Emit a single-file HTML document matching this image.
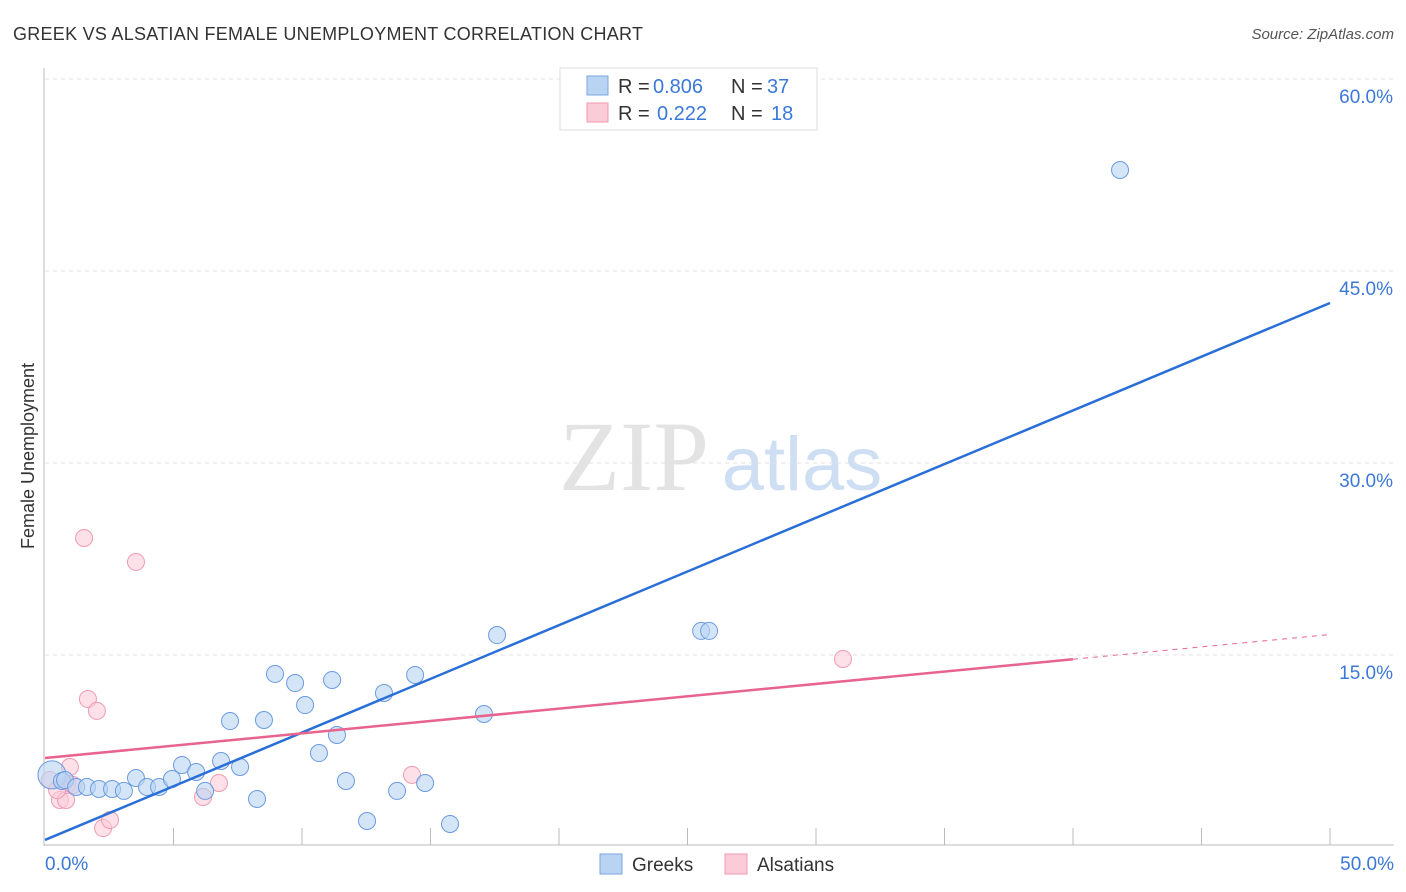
<!DOCTYPE html>
<html><head><meta charset="utf-8"><style>
body{margin:0;background:#fff;font-family:"Liberation Sans",sans-serif}
svg{display:block}
</style></head><body>
<svg id="chart" width="1406" height="892" viewBox="0 0 1406 892">
<text x="13" y="40" font-size="18" fill="#333" textLength="630">GREEK VS ALSATIAN FEMALE UNEMPLOYMENT CORRELATION CHART</text>
<text x="1394" y="39" font-size="15" fill="#555" font-style="italic" text-anchor="end">Source: ZipAtlas.com</text>
<text transform="translate(34,456) rotate(-90)" font-size="18" fill="#333" text-anchor="middle">Female Unemployment</text>
<g><text x="634" y="490" font-size="100" font-family="Liberation Serif,serif" fill="#e3e3e3" text-anchor="middle">ZIP</text><text x="802" y="490" font-size="76" fill="#cfdff3" text-anchor="middle">atlas</text></g>
<g id="grid"></g><g id="axes"></g><g id="lines"></g><g id="pts"></g>
<g font-size="20">
<rect x="560" y="68" width="257" height="62" fill="#fff" stroke="#ddd"/>
<rect x="587" y="76" width="21" height="19" fill="#b9d3f3" stroke="#7aa7e0"/>
<rect x="587" y="103" width="21" height="19" fill="#fbcbd8" stroke="#ef9ab2"/>
<text x="618" y="93" fill="#333">R =</text><text x="653" y="93" fill="#3b78d8">0.806</text>
<text x="731" y="93" fill="#333">N =</text><text x="767" y="93" fill="#3b78d8">37</text>
<text x="618" y="120" fill="#333">R =</text><text x="657" y="120" fill="#3b78d8">0.222</text>
<text x="731" y="120" fill="#333">N =</text><text x="771" y="120" fill="#3b78d8">18</text>
</g>
<g>
<rect x="600" y="854" width="22" height="20" fill="#b9d3f3" stroke="#7aa7e0"/>
<text x="632" y="871" font-size="19" fill="#333">Greeks</text>
<rect x="725" y="854" width="22" height="20" fill="#fbcbd8" stroke="#ef9ab2"/>
<text x="757" y="871" font-size="19" fill="#333">Alsatians</text>
</g>
</svg>
<script>
const greekX=[0.27,0.66,0.78,1.21,1.63,2.10,2.61,3.07,3.54,3.97,4.44,4.94,5.33,5.88,6.23,6.85,7.20,7.59,8.25,8.52,8.95,9.73,10.12,10.66,11.17,11.36,11.71,12.53,13.19,13.70,14.40,14.79,15.76,17.08,17.59,25.53,25.84,41.83];
const greekY=[5.63,5.16,5.23,4.69,4.69,4.53,4.53,4.38,5.39,4.69,4.69,5.31,6.41,5.86,4.38,6.72,9.84,6.25,3.75,9.92,13.52,12.81,11.09,7.34,13.05,8.75,5.16,2.03,12.03,4.38,13.44,5.0,1.80,10.39,16.56,16.88,16.88,52.89];
const alsX=[0.19,0.58,0.82,0.97,0.86,1.52,1.67,2.02,2.26,2.53,3.54,6.15,6.77,14.28,31.05,0.47,1.09];
const alsY=[5.23,3.67,3.67,6.25,4.84,24.14,11.56,10.63,1.48,2.11,22.27,3.91,5.0,5.63,14.69,4.45,4.84];
const yTicks=[15,30,45,60];
const yTickLabels=["15.0%","30.0%","45.0%","60.0%"];
const xTickLabels=["0.0%","50.0%"];
const greekFit=[0.55,42.5];
const alsFit=[6.95,16.6];
const alsSolidEnd=40;
const NS="http://www.w3.org/2000/svg";
const sx=v=>45+v*25.7, sy=v=>847-v*12.8;
function mk(t,a,p){const e=document.createElementNS(NS,t);for(const k in a)e.setAttribute(k,a[k]);document.getElementById(p).appendChild(e);return e;}
yTicks.forEach((t,i)=>{
 const g=mk('line',{x1:45,x2:1394,y1:sy(t),y2:sy(t),stroke:'#e2e2e2','stroke-dasharray':'4,4'},'grid');
 
 
 const l=mk('text',{x:1393,y:sy(t)+24,'font-size':19,fill:'#3b78d8','text-anchor':'end'},'grid');l.textContent=yTickLabels[i];
 
 
});
const ax=mk('line',{x1:44,x2:44,y1:68,y2:846,stroke:'#bbb'},'axes');


const bx=mk('line',{x1:44,x2:1394,y1:845,y2:845,stroke:'#bbb'},'axes');


for(let i=1;i<=10;i++){const t=mk('line',{x1:sx(i*5),x2:sx(i*5),y1:828,y2:845,stroke:'#bbb'},'axes');
 
 }
[[0,'start',45],[50,'end',1394]].forEach((d,i)=>{const t=mk('text',{x:d[2],y:870,'font-size':19,fill:'#3b78d8','text-anchor':d[1]},'axes');t.textContent=xTickLabels[i];
 
 });
function dot(x,y,r,fill,st,name){const c=mk('circle',{cx:sx(x),cy:sy(y),r:r,fill:fill,'fill-opacity':0.6,stroke:st,'stroke-width':1},'pts');
 
 }
alsX.forEach((x,i)=>dot(x,alsY[i],8.5,'#fbcbd8','#ef9ab2','alsatian-point'));
greekX.forEach((x,i)=>dot(x,greekY[i],i===0?14:8.5,'#b9d3f3','#6a9be0','greek-point'));
const bl=mk('line',{x1:sx(0),y1:sy(greekFit[0]),x2:sx(50),y2:sy(greekFit[1]),stroke:'#2a6fd8','stroke-width':2.5},'pts');


const aAt=x=>alsFit[0]+(alsFit[1]-alsFit[0])*x/50;
const pl=mk('line',{x1:sx(0),y1:sy(aAt(0)),x2:sx(alsSolidEnd),y2:sy(aAt(alsSolidEnd)),stroke:'#e8648e','stroke-width':2.5},'pts');


const pd=mk('line',{x1:sx(alsSolidEnd),y1:sy(aAt(alsSolidEnd)),x2:sx(50),y2:sy(aAt(50)),stroke:'#e8648e','stroke-width':1,'stroke-dasharray':'5,5'},'pts');


</script>
</body></html>
